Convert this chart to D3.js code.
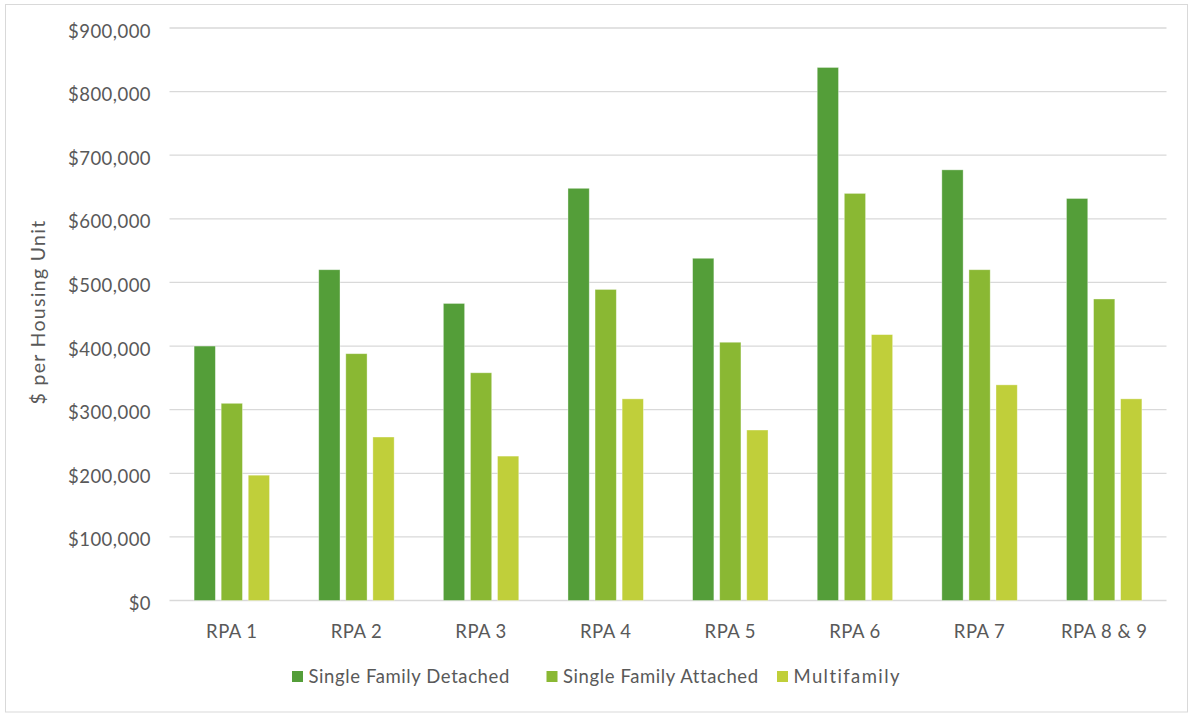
<!DOCTYPE html>
<html>
<head>
<meta charset="utf-8">
<script src="https://cdn.jsdelivr.net/npm/d3@7"></script>
<style>
  html, body { margin: 0; padding: 0; background: #fff; }
  svg { display: block; }
  text { font-family: Lato, "Open Sans", sans-serif; fill: #595959; }
</style>
</head>
<body>
<svg id="chart" width="1192" height="713"></svg>
<script>
// Housing cost per unit by Regional Planning Area
const categories = ["RPA 1", "RPA 2", "RPA 3", "RPA 4", "RPA 5", "RPA 6", "RPA 7", "RPA 8 & 9"];
const seriesNames = ["Single Family Detached", "Single Family Attached", "Multifamily"];
const detached = [400000, 520000, 467000, 648000, 538000, 838000, 677000, 632000];
const attached = [310000, 388000, 358000, 489000, 406000, 640000, 520000, 474000];
const multifamily = [197000, 257000, 227000, 317000, 268000, 418000, 339000, 317000];
const yTicks = [0, 100000, 200000, 300000, 400000, 500000, 600000, 700000, 800000, 900000];
const colors = ["#549E39", "#8AB833", "#C0CF3A"];

const seriesValues = [detached, attached, multifamily];
const rows = categories.map((c, i) => ({
  category: c,
  values: seriesNames.map((s, j) => ({ series: s, value: seriesValues[j][i] }))
}));

const svg = d3.select("#chart");
const plot = { left: 169.5, right: 1166.5, top: 28, bottom: 600.5 };
const fontSize = 18.5, spacing = 0.45;

// outer chart border
svg.append("rect")
  .attr("x", 5.5).attr("y", 4.5)
  .attr("width", 1182).attr("height", 707.5)
  .attr("fill", "#fff").attr("stroke", "#d9d9d9").attr("stroke-width", 1);

const y = d3.scaleLinear().domain([0, 900000]).range([plot.bottom, plot.top]);
const x0 = d3.scaleBand().domain(categories).range([plot.left, plot.right]).padding(0);
const outer = 24.6;
const x1 = d3.scaleBand().domain(seriesNames)
  .range([outer, x0.bandwidth() - outer])
  .paddingInner(0.214).paddingOuter(0);

// gridlines
svg.append("g")
  .selectAll("line").data(yTicks).join("line")
  .attr("x1", plot.left).attr("x2", plot.right)
  .attr("y1", d => y(d)).attr("y2", d => y(d))
  .attr("stroke", "#d9d9d9").attr("stroke-width", 1.3);

// y axis labels
const fmt = d => "$" + d3.format(",")(d);
const yAxis = d3.axisLeft(y).tickValues(yTicks).tickFormat(fmt).tickSize(0).tickPadding(0);
const gy = svg.append("g").attr("transform", `translate(151,0)`).call(yAxis);
gy.select(".domain").remove();
gy.selectAll("text")
  .attr("font-size", fontSize).attr("fill", "#595959")
  .attr("font-family", "Lato, sans-serif")
  .attr("letter-spacing", spacing)
  .attr("dy", 0).attr("y", 9);

// bars
const groups = svg.append("g").selectAll("g").data(rows).join("g")
  .attr("transform", d => `translate(${x0(d.category)},0)`);
groups.selectAll("rect").data(d => d.values).join("rect")
  .attr("x", d => x1(d.series))
  .attr("width", x1.bandwidth())
  .attr("y", d => y(d.value))
  .attr("height", d => y(0) - y(d.value))
  .attr("fill", (d, i) => colors[i])
  .attr("stroke", "rgba(255,255,255,0.45)").attr("stroke-width", 0.8);

// x axis labels
const xAxis = d3.axisBottom(x0).tickSize(0).tickPadding(0);
const gx = svg.append("g").attr("transform", `translate(0,${plot.bottom})`).call(xAxis);
gx.select(".domain").remove();
gx.selectAll("text")
  .attr("font-size", fontSize).attr("fill", "#595959")
  .attr("font-family", "Lato, sans-serif")
  .attr("letter-spacing", spacing)
  .attr("dy", 0).attr("y", 37.5);

// y axis title
svg.append("text")
  .attr("transform", "translate(45,312) rotate(-90)")
  .attr("text-anchor", "middle")
  .attr("font-size", 19.5)
  .attr("letter-spacing", 1.3)
  .text("$ per Housing Unit");

// legend
const legendX = [292, 546.5, 777];
const lg = svg.append("g").selectAll("g").data(seriesNames).join("g")
  .attr("transform", (d, i) => `translate(${legendX[i]},671)`);
lg.append("rect").attr("width", 11).attr("height", 11)
  .attr("fill", (d, i) => colors[i]);
lg.append("text").attr("x", 16.5).attr("y", 11.5)
  .attr("font-size", fontSize)
  .attr("letter-spacing", (d, i) => i === 2 ? 1.4 : 0.6)
  .text(d => d);
</script>
</body>
</html>
